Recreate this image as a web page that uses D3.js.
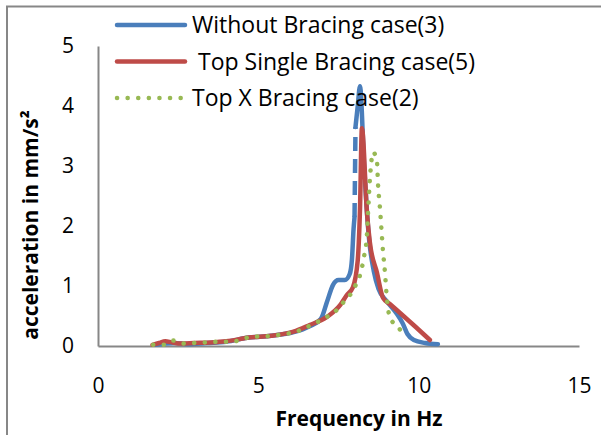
<!DOCTYPE html>
<html>
<head>
<meta charset="utf-8">
<script src="https://cdnjs.cloudflare.com/ajax/libs/d3/7.8.5/d3.min.js"></script>
<style>
  body { margin:0; padding:0; background:#fff; }
  text { font-family:"Open Sans", sans-serif; fill:#000; }
</style>
</head>
<body>
<div id="body"></div>
<script>
//DATA
var xTicks = [0, 5, 10, 15];
var yTicks = [0, 1, 2, 3, 4, 5];

var seriesNames = ["Without Bracing case(3)", " Top Single Bracing case(5)", "Top X Bracing case(2)"];

//without bracing
var blueFreq = [1.8, 2.1, 2.4, 2.8, 3.4, 4.0, 4.7, 5.4, 6.1, 6.6, 6.95, 7.15, 7.33, 7.5, 7.7, 7.85, 7.92, 7.97, 8.0, 8.03, 8.1, 8.17, 8.3, 8.45, 8.6, 8.75, 9.0, 9.3, 9.5, 9.65, 9.85, 10.2, 10.6];
var blueAcc  = [0.02, 0.04, 0.05, 0.03, 0.05, 0.07, 0.14, 0.17, 0.23, 0.33, 0.45, 0.75, 1.02, 1.1, 1.1, 1.2, 1.45, 1.95, 2.15, 3.65, 4.0, 4.33, 3.0, 1.8, 1.25, 0.95, 0.75, 0.55, 0.38, 0.2, 0.1, 0.05, 0.03];
var blueDashFrom = 18, blueDashTo = 19; //steep rise drawn broken in the original

//top single bracing
var redFreq = [1.7, 1.9, 2.1, 2.3, 2.6, 3.0, 3.5, 4.0, 4.7, 5.4, 6.1, 6.6, 7.13, 7.55, 7.76, 7.95, 8.1, 8.17, 8.23, 8.39, 8.48, 8.7, 8.89, 9.1, 9.42, 9.9, 10.35];
var redAcc  = [0.02, 0.05, 0.08, 0.06, 0.04, 0.05, 0.06, 0.08, 0.14, 0.17, 0.24, 0.35, 0.48, 0.68, 0.85, 0.98, 1.43, 2.27, 3.63, 2.2, 1.72, 1.22, 0.8, 0.7, 0.55, 0.32, 0.1];

//top x bracing
var greenFreq = [1.72, 2.05, 2.35, 2.7, 3.0, 3.4, 3.7, 4.05, 4.4, 4.74, 5.1, 5.46, 5.8, 6.14, 6.45, 6.77, 7.08, 7.39, 7.64, 7.86, 8.0, 8.17, 8.3, 8.38, 8.42, 8.47, 8.52, 8.58, 8.7, 8.73, 8.79, 8.89, 8.95, 9.0, 9.1, 9.35, 9.57];
var greenAcc  = [0.02, 0.02, 0.09, 0.04, 0.05, 0.06, 0.07, 0.07, 0.09, 0.15, 0.16, 0.17, 0.2, 0.23, 0.3, 0.38, 0.47, 0.57, 0.72, 0.85, 0.98, 1.18, 1.5, 1.8, 2.2, 2.7, 3.05, 3.23, 3.07, 2.72, 2.32, 1.57, 1.22, 0.85, 0.48, 0.32, 0.17];

var width = 601;
var height = 435;

var colors = ["#4a7ebb", "#be4b48", "#98b954"];

function zip(xs, ys){
  return xs.map(function(d, i){ return [d, ys[i]]; });
}

var svg = d3.select("#body").append("svg")
  .attr("width", width)
  .attr("height", height);

//outer chart border, runs off the right and bottom
svg.append("rect")
  .attr("x", 7)
  .attr("y", 6.5)
  .attr("width", 700)
  .attr("height", 500)
  .attr("style", "fill:#fff;stroke:#878787;stroke-width:2;");

var x = d3.scaleLinear().domain([0, 15]).range([98, 579]);
var y = d3.scaleLinear().domain([0, 5]).range([346, 46]);

//---AXES
var xAxis = svg.append("g")
  .attr("transform", "translate(0," + y(0) + ")")
  .call(d3.axisBottom(x).tickValues(xTicks).tickSize(0).tickPadding(32).tickFormat(d3.format("d")));
xAxis.select(".domain").attr("stroke", "#878787").attr("stroke-width", 2);
xAxis.selectAll("text").style("font-size", "21px").attr("font-family", null);

var yAxis = svg.append("g")
  .attr("transform", "translate(" + x(0) + ",0)")
  .call(d3.axisLeft(y).tickValues(yTicks).tickSize(0).tickPadding(24).tickFormat(d3.format("d")));
yAxis.select(".domain").attr("stroke", "#878787").attr("stroke-width", 2);
yAxis.selectAll("text").style("font-size", "21px").attr("font-family", null);

svg.append("text")
  .attr("x", 359)
  .attr("y", 426)
  .attr("text-anchor", "middle")
  .style("font-size", "21px")
  .style("font-weight", "bold")
  .text("Frequency in Hz");

svg.append("text")
  .attr("transform", "translate(38,225) rotate(-90)")
  .attr("text-anchor", "middle")
  .style("font-size", "21px")
  .style("font-weight", "bold")
  .text("acceleration in mm/s²");

//---SERIES
var line = d3.line()
  .x(function(d){ return x(d[0]); })
  .y(function(d){ return y(d[1]); })
  .curve(d3.curveMonotoneX);

var straight = d3.line()
  .x(function(d){ return x(d[0]); })
  .y(function(d){ return y(d[1]); });

var blue = zip(blueFreq, blueAcc);
var data = svg.append("g").attr("id", "data");

data.append("path")
  .attr("d", line(blue.slice(0, blueDashFrom + 1)))
  .attr("style", "fill:none;stroke:" + colors[0] + ";stroke-width:4.5;stroke-linecap:round;stroke-linejoin:round;");
data.append("path")
  .attr("d", straight(blue.slice(blueDashFrom, blueDashTo + 1)))
  .attr("style", "fill:none;stroke:" + colors[0] + ";stroke-width:4.5;stroke-dasharray:14,8;");
data.append("path")
  .attr("d", line(blue.slice(blueDashTo)))
  .attr("style", "fill:none;stroke:" + colors[0] + ";stroke-width:4.5;stroke-linecap:round;stroke-linejoin:round;");

data.append("path")
  .attr("d", line(zip(redFreq, redAcc)))
  .attr("style", "fill:none;stroke:" + colors[1] + ";stroke-width:4.5;stroke-linecap:round;stroke-linejoin:round;");

data.append("path")
  .attr("d", line(zip(greenFreq, greenAcc)))
  .attr("style", "fill:none;stroke:" + colors[2] + ";stroke-width:4.5;stroke-linecap:round;stroke-dasharray:0.1,10.5;");

//---LEGEND
var legend = svg.append("g").attr("id", "ui");
var rows = legend.selectAll("g").data(seriesNames).enter().append("g")
  .attr("transform", function(d, i){ return "translate(117," + (25 + i * 36.5) + ")"; });

rows.append("line")
  .attr("x1", 0).attr("x2", 68)
  .attr("stroke", function(d, i){ return colors[i]; })
  .attr("stroke-width", 4.5)
  .attr("stroke-linecap", "round")
  .attr("stroke-dasharray", function(d, i){ return i == 2 ? "0.1,10.5" : null; });

rows.append("text")
  .attr("x", 75)
  .attr("dy", "0.35em")
  .attr("xml:space", "preserve")
  .style("white-space", "pre")
  .style("font-size", "23px")
  .text(function(d){ return d; });
</script>
</body>
</html>
